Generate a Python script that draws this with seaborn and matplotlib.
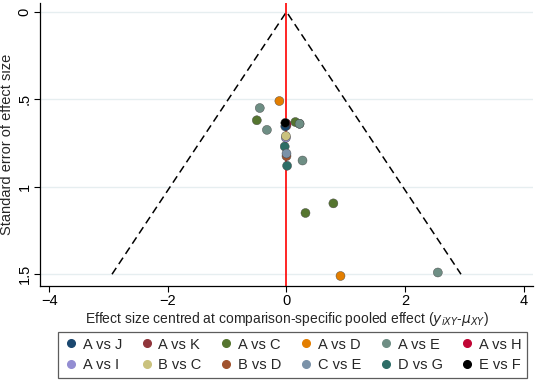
import numpy as np
import pandas as pd
import matplotlib
matplotlib.use("Agg")
import matplotlib.pyplot as plt
import seaborn as sns

# comparison-adjusted funnel plot data
comparison = ["A vs K", "A vs H", "A vs D", "A vs E", "A vs C", "A vs E", "A vs E",
              "A vs C", "A vs E", "A vs J", "E vs F", "A vs I", "B vs C", "D vs G",
              "B vs D", "C vs E", "A vs E", "D vs G", "A vs C", "A vs C", "A vs D",
              "A vs E"]
effect = [0.0, 0.0, -0.12, -0.45, -0.50, -0.33, 0.22,
          0.15, 0.22, -0.02, -0.02, -0.01, -0.01, -0.03,
          0.0, 0.0, 0.27, 0.01, 0.79, 0.32, 0.91,
          2.55]
se = [0.65, 0.64, 0.51, 0.55, 0.62, 0.675, 0.64,
      0.63, 0.64, 0.655, 0.635, 0.72, 0.71, 0.77,
      0.825, 0.81, 0.85, 0.88, 1.095, 1.15, 1.51,
      1.49]

legend_order = ["A vs J", "A vs K", "A vs C", "A vs D", "A vs E", "A vs H",
                "A vs I", "B vs C", "B vs D", "C vs E", "D vs G", "E vs F"]
colors = ["#1a476f", "#90353b", "#55752f", "#e37e00", "#6e8e84", "#c10534",
          "#938dd2", "#cac27e", "#a0522d", "#7b92a8", "#2d6d66", "#000000"]

df = pd.DataFrame({"comparison": comparison, "effect": effect, "se": se})

sns.set_style("white")
plt.rcParams["font.family"] = ["Liberation Sans", "DejaVu Sans"]

fig = plt.figure(figsize=(5.36, 3.81), dpi=100)
ax = fig.add_axes([0.075, 0.249, 0.919, 0.743])

# pseudo confidence funnel
se_max = 1.5
ax.plot([-1.96 * se_max, 0, 1.96 * se_max], [se_max, 0, se_max],
        color="black", ls=(0, (5, 3)), lw=1.1, zorder=1)
ax.axvline(0, color="red", lw=1.2, zorder=2)

sns.scatterplot(data=df, x="effect", y="se", hue="comparison",
                hue_order=legend_order, palette=dict(zip(legend_order, colors)),
                s=42, edgecolor="#444444", linewidth=0.3, legend=False,
                ax=ax, zorder=3)

ax.set_xlim(-4.15, 4.15)
ax.set_ylim(1.568, -0.05)
ax.set_xticks([-4, -2, 0, 2, 4])
ax.set_yticks([0, 0.5, 1, 1.5])
ax.set_yticklabels(["0", ".5", "1", "1.5"], rotation=90, va="center")
ax.yaxis.grid(True, color="#e6eef0", lw=1)
ax.xaxis.grid(False)
for side in ["top", "right"]:
    ax.spines[side].set_visible(False)
for side in ["left", "bottom"]:
    ax.spines[side].set_color("black")
    ax.spines[side].set_linewidth(0.9)
ax.tick_params(axis="both", length=4, width=0.8, colors="black", labelsize=10.5,
               left=True, bottom=True, pad=2)
ax.set_xlabel("Effect size centred at comparison-specific pooled effect "
              "($y_{iXY}$-$\\mu_{XY}$)", fontsize=10, labelpad=1)
ax.set_ylabel("Standard error of effect size", fontsize=10.5, labelpad=3)

# legend filled row by row (matplotlib fills columns first)
ncol = 6
idx = [r * ncol + c for c in range(ncol) for r in range(2)]
handles = [plt.Line2D([], [], marker="o", ls="", color=colors[i], markersize=5.5)
           for i in idx]
labels = [legend_order[i] for i in idx]
leg = fig.legend(handles, labels, ncol=ncol, loc="lower center",
                 bbox_to_anchor=(0.546, 0.008), borderaxespad=0,
                 frameon=True, fancybox=False,
                 fontsize=10.5, handletextpad=0.3, columnspacing=1.2,
                 borderpad=0.4, labelspacing=0.45, handlelength=1.0)
leg.get_frame().set_edgecolor("#333333")
leg.get_frame().set_linewidth(0.9)

fig.savefig("out.png", dpi=100)
